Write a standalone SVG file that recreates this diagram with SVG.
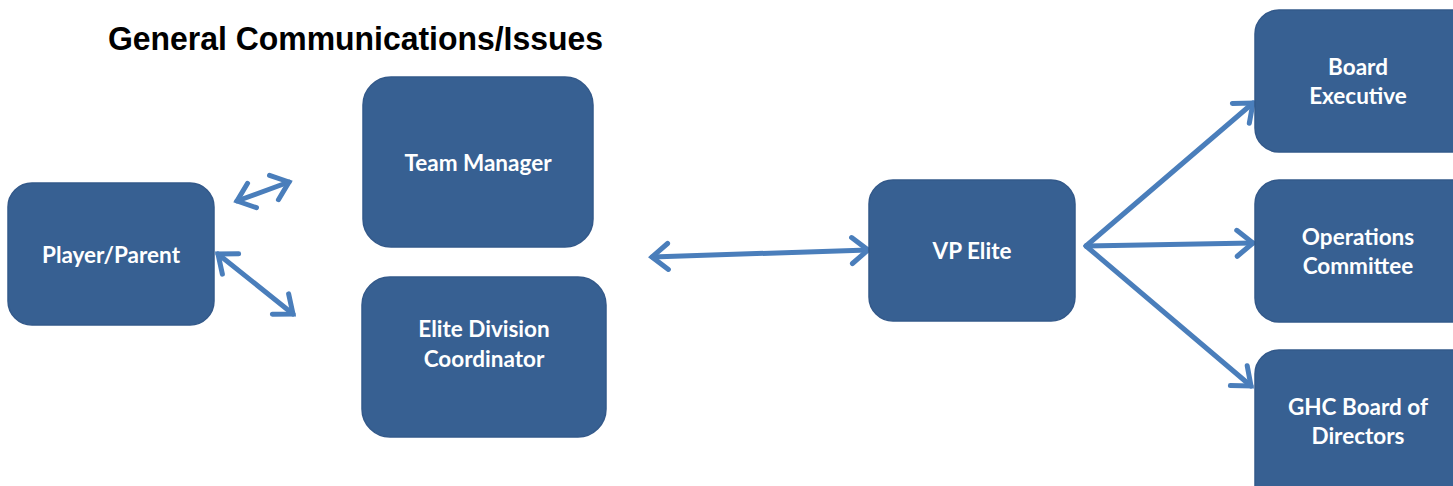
<svg xmlns="http://www.w3.org/2000/svg" width="1453" height="486" viewBox="0 0 1453 486">
<style>
.box{fill:#376092;stroke:#33598a;stroke-width:1.5}
.lbl{font-family:Lato,"Open Sans","Liberation Sans",sans-serif;font-weight:bold;font-size:22.5px;fill:#ffffff;text-anchor:middle}
.title{font-family:"Liberation Sans",Arial,sans-serif;font-weight:bold;font-size:34px;fill:#000000}
.conn{stroke:#4a7ebb;stroke-width:5;fill:none;stroke-linecap:round;marker-end:url(#chev)}
.both{marker-start:url(#chev)}
</style>
<defs>
<marker id="chev" markerUnits="userSpaceOnUse" markerWidth="40" markerHeight="40" viewBox="-20 -20 40 40" refX="0" refY="0" orient="auto-start-reverse">
<path d="M-16,-13 L0,0 L-16,13" fill="none" stroke="#4a7ebb" stroke-width="5" stroke-linecap="round" stroke-linejoin="miter"/>
</marker>
</defs>
<rect width="1453" height="486" fill="#ffffff"/>
<text class="title" x="108" y="50" textLength="495" lengthAdjust="spacingAndGlyphs">General Communications/Issues</text>
<g id="connectors">
<line class="conn both" x1="237" y1="201" x2="289" y2="182"/>
<line class="conn both" x1="218" y1="254" x2="293" y2="314"/>
<line class="conn both" x1="652" y1="257" x2="868" y2="250"/>
<line class="conn" x1="1086" y1="246" x2="1253" y2="103"/>
<line class="conn" x1="1086" y1="246" x2="1253" y2="243"/>
<line class="conn" x1="1086" y1="246" x2="1251" y2="386"/>
</g>
<g id="player-parent">
<rect class="box" x="8" y="183" width="206" height="142" rx="24"/>
<text class="lbl" x="111" y="263">Player/Parent</text>
</g>
<g id="team-manager">
<rect class="box" x="363" y="77" width="230" height="170" rx="28"/>
<text class="lbl" x="478" y="171">Team Manager</text>
</g>
<g id="elite-division-coordinator">
<rect class="box" x="362" y="277" width="244" height="160" rx="28"/>
<text class="lbl" x="484" y="337">Elite Division</text>
<text class="lbl" x="484" y="367">Coordinator</text>
</g>
<g id="vp-elite">
<rect class="box" x="869" y="180" width="206" height="141" rx="24"/>
<text class="lbl" x="972" y="259">VP Elite</text>
</g>
<g id="board-executive">
<rect class="box" x="1255" y="10" width="220" height="142" rx="24"/>
<text class="lbl" x="1358" y="75">Board</text>
<text class="lbl" x="1358" y="104">Executive</text>
</g>
<g id="operations-committee">
<rect class="box" x="1255" y="180" width="220" height="142" rx="24"/>
<text class="lbl" x="1358" y="245">Operations</text>
<text class="lbl" x="1358" y="274">Committee</text>
</g>
<g id="ghc-board">
<rect class="box" x="1255" y="350" width="220" height="160" rx="24"/>
<text class="lbl" x="1358" y="415">GHC Board of</text>
<text class="lbl" x="1358" y="444">Directors</text>
</g>
</svg>
